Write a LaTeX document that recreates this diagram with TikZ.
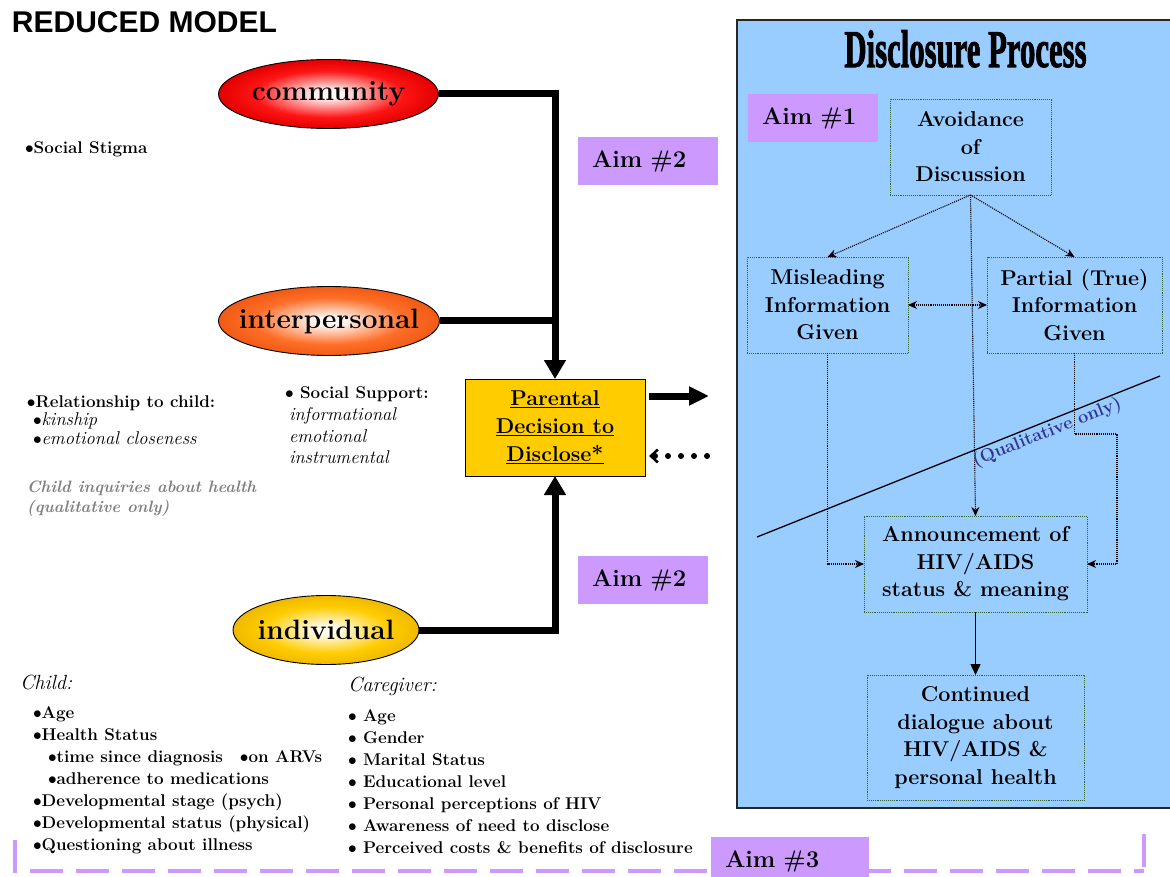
\documentclass[tikz,border=0pt]{standalone}
\usepackage{fontspec}
\newfontfamily\titlefont{Liberation Sans}
\newfontfamily\headfont[FakeBold=2]{Liberation Serif}
\usetikzlibrary{shapes.geometric,arrows.meta,calc}

\definecolor{panelblue}{RGB}{153,204,255}
\definecolor{aimpurple}{RGB}{204,153,255}
\definecolor{decgold}{RGB}{255,204,0}
\definecolor{boxgreen}{RGB}{51,102,51}
\definecolor{qualblue}{RGB}{51,51,153}
\definecolor{notegray}{RGB}{128,128,128}
% ellipse fills
\definecolor{commcore}{RGB}{255,245,245}
\definecolor{commmid}{RGB}{255,20,20}
\definecolor{commedge}{RGB}{225,0,0}
\definecolor{intercore}{RGB}{255,248,244}
\definecolor{intermid}{RGB}{255,110,40}
\definecolor{interedge}{RGB}{240,90,20}
\definecolor{indivcore}{RGB}{255,252,240}
\definecolor{indivmid}{RGB}{255,204,0}
\definecolor{indivedge}{RGB}{240,185,0}

\pgfdeclareradialshading{commshade}{\pgfpoint{0bp}{0bp}}{color(0bp)=(commcore); color(3bp)=(commcore); color(17bp)=(commmid); color(25bp)=(commedge); color(50bp)=(commedge)}
\pgfdeclareradialshading{intershade}{\pgfpoint{0bp}{0bp}}{color(0bp)=(intercore); color(3bp)=(intercore); color(17bp)=(intermid); color(25bp)=(interedge); color(50bp)=(interedge)}
\pgfdeclareradialshading{indivshade}{\pgfpoint{0bp}{0bp}}{color(0bp)=(indivcore); color(3bp)=(indivcore); color(17bp)=(indivmid); color(25bp)=(indivedge); color(50bp)=(indivedge)}

\newcommand{\fsz}[2]{\fontsize{#1}{#2}\selectfont}

\begin{document}
\begin{tikzpicture}[x=1pt,y=-1pt,
  every node/.style={inner sep=0pt,outer sep=0pt},
  level/.style={ellipse,draw=black,line width=0.9pt,font=\fsz{28}{30}\bfseries},
  note/.style={anchor=base west,font=\fsz{17}{20}\bfseries},
  noteit/.style={anchor=base west,font=\fsz{18.5}{20}\itshape},
  grouphead/.style={anchor=base west,font=\fsz{20.5}{22}\itshape},
  grayit/.style={anchor=base west,text=notegray,font=\fsz{16.5}{20}\bfseries\itshape},
  aimbox/.style={fill=aimpurple,minimum height=48pt,inner xsep=14pt,align=left,font=\fsz{24}{24}\bfseries},
  procbox/.style={draw=boxgreen,densely dotted,line width=0.9pt,align=center,font=\fsz{21.5}{27.5}\bfseries},
  heavy/.style={line width=7pt,line join=miter},
  heavytip/.style={-{Triangle[width=21pt,length=19pt]}},
  flow/.style={densely dotted,line width=1.1pt,-{Stealth[length=9pt,width=8pt]}},
  frame/.style={aimpurple,line width=4pt}
]
\useasboundingbox (0,0) rectangle (1170,877);

% ---------- right-hand process panel ----------
\node[draw=black!85,line width=1.3pt,fill=panelblue,anchor=north west,
      minimum width=445pt,minimum height=788pt] (panel) at (737,20) {};
\node[anchor=base,font=\headfont\bfseries\fsz{53}{53}] (ptitle) at (965.5,67)
  {\scalebox{0.58}[1]{Disclosure Process}};

\node[aimbox,text width=102pt] (aim1) at (813,118) {Aim \#1};

\node[procbox,minimum width=161pt,minimum height=96pt] (avoid) at (970.5,147) {Avoidance\\of\\Discussion};
\node[procbox,minimum width=161pt,minimum height=96pt] (mislead) at (827.5,305) {Misleading\\Information\\Given};
\node[procbox,minimum width=175pt,minimum height=96pt] (partial) at (1074.5,305) {Partial (True)\\Information\\Given};
\node[procbox,minimum width=223pt,minimum height=96pt] (announce) at (975.5,564) {Announcement of\\HIV/AIDS\\status \& meaning};
\node[procbox,minimum width=217pt,minimum height=125pt] (dialogue) at (975.5,737.5) {Continued\\dialogue about\\HIV/AIDS \&\\personal health};

\draw[flow] (avoid.south) -- (mislead.north);
\draw[flow] (avoid.south) -- (partial.north);
\draw[flow] (avoid.south) -- (announce.north);
\draw[flow,{Stealth[length=9pt,width=8pt]}-{Stealth[length=9pt,width=8pt]}] (mislead.east) -- (partial.west);
\draw[flow] (mislead.south) |- (announce.west);
\draw[flow] (partial.south) -- ++(0,81) -| ($(announce.east)+(30,0)$) -- (announce.east);
\draw[line width=1.6pt,-{Triangle[length=11pt,width=10pt]}] (announce.south) -- (dialogue.north);

% qualitative-only divider
\coordinate (qa) at (757,537);
\coordinate (qb) at (1160,376);
\draw[line width=1.3pt] (qa) -- (qb)
  node[pos=0.71,sloped,below=2pt,text=qualblue,font=\fsz{18}{18}\bfseries] (qual) {(Qualitative only)};

% ---------- dashed frame of the individual level ----------
\draw[frame,dash pattern=on 33pt off 13pt] (15,840) -- (15,871) -- (1144,871);
\draw[frame] (1144,867) -- (1144,834);
\node[aimbox,text width=130pt] (aim3) at (790,861) {Aim \#3};

% ---------- title ----------
\node[anchor=base west,font=\titlefont\bfseries\fsz{30}{30}] (title) at (12,33) {REDUCED MODEL};

% ---------- levels ----------
\node[level,minimum width=220pt,minimum height=69pt,shading=commshade] (community) at (328.5,94) {\makebox[0pt]{community}};
\node[level,minimum width=221pt,minimum height=69pt,shading=intershade] (interpersonal) at (329,321) {\makebox[0pt]{interpersonal}};
\node[level,minimum width=186pt,minimum height=69pt,shading=indivshade] (individual) at (326,630) {\makebox[0pt]{individual}};

% ---------- decision ----------
\node[draw=black,line width=0.9pt,fill=decgold,minimum width=180pt,minimum height=97pt,
      align=center,font=\fsz{21.5}{28}\bfseries] (decision) at (555,427.5)
  {\underline{Parental}\\\underline{Decision to}\\\underline{Disclose*}};

\draw[heavy,heavytip] (community.east) -| (decision.north);
\draw[heavy] (interpersonal.east) -- (interpersonal.east -| decision.north);
\draw[heavy,heavytip] (individual.east) -| (decision.south);

\coordinate (toProc) at (709,396);
\coordinate (fromProc) at (707,456);
\draw[line width=7pt,-{Triangle[width=18pt,length=20pt]}] ($(decision.east |- toProc)+(4,0)$) -- (toProc);
\draw[line width=6pt,line cap=round,dash pattern=on 0pt off 13pt,
      -{Straight Barb[length=7pt,width=13pt,line width=2.5pt]}] (fromProc) -- ($(decision.east |- fromProc)+(4,0)$);

\node[aimbox,text width=112pt] (aim2a) at (648,161) {Aim \#2};
\node[aimbox,text width=102pt] (aim2b) at (643,580) {Aim \#2};

% ---------- community factors ----------
\node[note] (stigma) at (25,154) {$\bullet$Social Stigma};

% ---------- interpersonal factors ----------
\node[note] (relation) at (27,407) {$\bullet$Relationship to child:};
\node[noteit] (kinship) at (33,425) {$\bullet$kinship};
\node[noteit] (closeness) at (33,444) {$\bullet$emotional closeness};
\node[grayit] (inquiry) at (27,492) {Child inquiries about health};
\node[grayit] (qualonly) at (27,512) {(qualitative only)};

\node[note] (support) at (285,398) {$\bullet$ Social Support:};
\node[noteit] (info) at (289,420) {informational};
\node[noteit] (emot) at (289,442) {emotional};
\node[noteit] (instr) at (289,463) {instrumental};

% ---------- individual factors ----------
\node[grouphead] (child) at (20,689) {Child:};
\node[note] (c1) at (33,718) {$\bullet$Age};
\node[note] (c2) at (33,740) {$\bullet$Health Status};
\node[note] (c3) at (48,762) {$\bullet$time since diagnosis\quad$\bullet$on ARVs};
\node[note] (c4) at (48,784) {$\bullet$adherence to medications};
\node[note] (c5) at (33,806) {$\bullet$Developmental stage (psych)};
\node[note] (c6) at (33,828) {$\bullet$Developmental status (physical)};
\node[note] (c7) at (33,850) {$\bullet$Questioning about illness};

\node[grouphead] (carer) at (348,691) {Caregiver:};
\node[note] (g1) at (348,721) {$\bullet$ Age};
\node[note] (g2) at (348,743) {$\bullet$ Gender};
\node[note] (g3) at (348,765) {$\bullet$ Marital Status};
\node[note] (g4) at (348,787) {$\bullet$ Educational level};
\node[note] (g5) at (348,809) {$\bullet$ Personal perceptions of HIV};
\node[note] (g6) at (348,831) {$\bullet$ Awareness of need to disclose};
\node[note] (g7) at (348,853) {$\bullet$ Perceived costs \& benefits of disclosure};
\end{tikzpicture}
\end{document}
